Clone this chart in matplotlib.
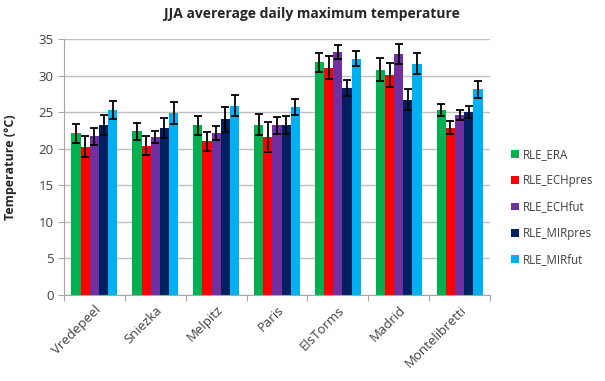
import numpy as np
import matplotlib
matplotlib.use("Agg")
from matplotlib import pyplot as plt

plt.rcParams['font.family'] = ['Open Sans', 'DejaVu Sans']

# stations on the x axis
stations = ["Vredepeel", "Sniezka", "Melpitz", "Paris", "ElsTorms", "Madrid", "Montelibretti"]

# mean JJA daily max temperature per run (degC)
era = [22.1, 22.4, 23.2, 23.3, 31.8, 30.8, 25.3]
ech_pres = [20.3, 20.4, 21.0, 21.6, 31.1, 30.1, 22.9]
ech_fut = [21.7, 21.6, 22.1, 23.2, 33.2, 33.0, 24.6]
mir_pres = [23.2, 22.8, 24.0, 23.2, 28.3, 26.7, 25.0]
mir_fut = [25.3, 24.9, 25.9, 25.7, 32.3, 31.6, 28.1]

# error bar half widths
era_err = [1.3, 1.15, 1.3, 1.45, 1.25, 1.6, 0.85]
ech_pres_err = [1.5, 1.3, 1.35, 2.1, 1.55, 1.65, 0.85]
ech_fut_err = [1.2, 0.85, 0.95, 1.2, 0.95, 1.35, 0.7]
mir_pres_err = [1.35, 1.35, 1.7, 1.25, 1.1, 1.4, 0.8]
mir_fut_err = [1.2, 1.5, 1.4, 1.15, 1.0, 1.45, 1.2]

series = ["RLE_ERA", "RLE_ECHpres", "RLE_ECHfut", "RLE_MIRpres", "RLE_MIRfut"]
values = [era, ech_pres, ech_fut, mir_pres, mir_fut]
errors = [era_err, ech_pres_err, ech_fut_err, mir_pres_err, mir_fut_err]
colors = ["#00B050", "#FF0000", "#7030A0", "#002060", "#00B0F0"]

fig = plt.figure(figsize=(6.05, 3.81), dpi=100)
ax = fig.add_axes([64 / 605, 1 - 295 / 381, 426 / 605, 256 / 381])

x = np.arange(len(stations))
barW = 0.151
for i, name in enumerate(series):
    offset = (i - 2) * barW
    ax.bar(x + offset, values[i], width=barW, color=colors[i], label=name, zorder=2,
           yerr=errors[i], error_kw=dict(ecolor="black", elinewidth=1.3, capsize=2.8, capthick=1.3))

ax.set_xlim(-0.5, len(stations) - 0.5)
ax.set_ylim(0, 35)
ax.set_yticks(np.arange(0, 36, 5))
ax.yaxis.grid(True, color="#BFBFBF", linewidth=1, zorder=0)
ax.set_axisbelow(True)

# x ticks sit on the group boundaries, labels at the centres
ax.set_xticks(np.arange(-0.5, len(stations), 1))
ax.set_xticklabels([])
ax.set_xticks(x, minor=True)
ax.set_xticklabels(stations, minor=True, rotation=45, ha="right", rotation_mode="anchor",
                   fontsize=9.5, color="#404040")
ax.tick_params(axis="x", which="minor", length=0, pad=6)
ax.tick_params(axis="x", which="major", length=4, color="#A6A6A6")
ax.tick_params(axis="y", length=4, color="#A6A6A6", labelsize=9.5, labelcolor="#404040")

for side in ["top", "right"]:
    ax.spines[side].set_visible(False)
for side in ["left", "bottom"]:
    ax.spines[side].set_color("#A6A6A6")

ax.set_ylabel("Temperature (°C)", fontsize=9, fontweight="bold", color="#262626")
ax.yaxis.set_label_coords(-0.11, 0.5)
fig.text(0.515, 0.962, "JJA avererage daily maximum temperature", ha="center", va="center",
         fontsize=10, fontweight="bold", color="#262626")

leg = ax.legend(loc="center left", bbox_to_anchor=(503 / 605, 1 - 207 / 381),
                bbox_transform=fig.transFigure, frameon=False, fontsize=8.3,
                handlelength=0.65, handleheight=0.65, labelspacing=1.15,
                handletextpad=0.35, borderpad=0.2)
for t in leg.get_texts():
    t.set_color("#404040")

fig.savefig("out.png", dpi=100)
